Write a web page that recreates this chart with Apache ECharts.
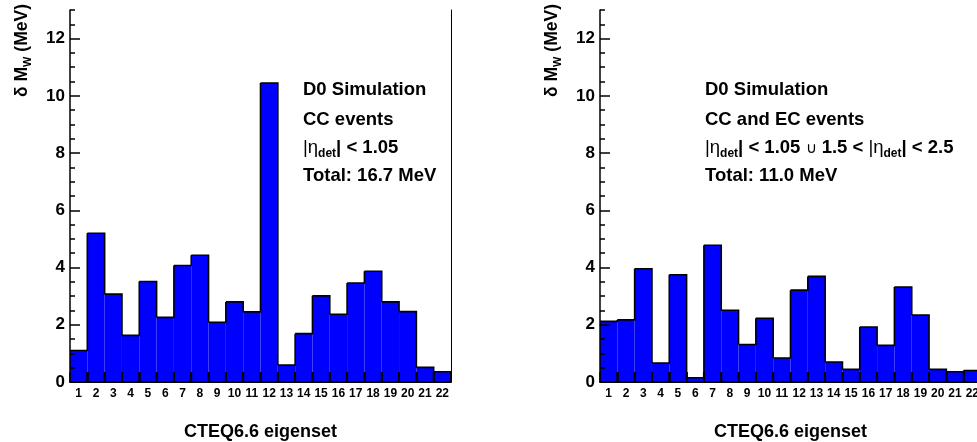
<!DOCTYPE html>
<html><head><meta charset="utf-8">
<script src="https://cdn.jsdelivr.net/npm/echarts@6/dist/echarts.min.js"></script>
<style>html,body{margin:0;padding:0;background:#fff}#c{width:977px;height:442px}</style>
</head><body><div id="c"></div>
<script>
// ---- data ----
const categories = ['1','2','3','4','5','6','7','8','9','10','11','12','13','14','15','16','17','18','19','20','21','22'];
const ccValues   = [1.10, 5.20, 3.07, 1.63, 3.51, 2.26, 4.07, 4.43, 2.09, 2.80, 2.45, 10.45, 0.59, 1.69, 3.01, 2.37, 3.46, 3.87, 2.80, 2.46, 0.51, 0.36];
const ccEcValues = [2.12, 2.17, 3.96, 0.66, 3.75, 0.15, 4.78, 2.51, 1.31, 2.23, 0.84, 3.21, 3.69, 0.70, 0.44, 1.92, 1.28, 3.32, 2.34, 0.44, 0.36, 0.40];
const yMin = 0, yMax = 13, yMajor = 2, yMinor = 0.5;
const xTitle = 'CTEQ6.6 eigenset';
const leftNotes  = ['D0 Simulation', 'CC events', '{n||η}{s|det}{b|| < 1.05}', 'Total: 16.7 MeV'];
const rightNotes = ['D0 Simulation', 'CC and EC events', '{n||η}{s|det}{b|| < 1.05 }{c|∪}{b| 1.5 < }{n||η}{s|det}{b|| < 2.5}', 'Total: 11.0 MeV'];

const FONT = '"Liberation Sans", Arial, Helvetica, sans-serif';
const chart = echarts.init(document.getElementById('c'), null, {renderer: 'canvas'});

function makeHist(vals) {
  return function (params, api) {
    const i = params.dataIndex;
    const v = api.value(1);
    const top = api.coord([i, v]);
    const base = api.coord([i, 0]);
    const w = api.size([1, 0])[0];
    const x0 = top[0] - w / 2, x1 = top[0] + w / 2;
    const last = i + 1 >= vals.length;
    const nextY = !last ? api.coord([i + 1, vals[i + 1]])[1] : base[1];
    const children = [
      {type: 'rect', z2: 1, shape: {x: x0, y: top[1], width: w, height: base[1] - top[1]}, style: {fill: '#0000ff'}},
      {type: 'polyline', z2: 10, shape: {points: [[x0, top[1]], [x1, top[1]], [x1, nextY]]}, style: {stroke: '#000', lineWidth: 1.6, fill: null}}
    ];
    if (!last) {
      children.push({type: 'line', z2: 20, shape: {x1: x1, y1: base[1], x2: x1, y2: base[1] - 10}, style: {stroke: '#000', lineWidth: 2}});
    }
    return {type: 'group', children: children};
  };
}

const grids = [
  {left: 70, top: 10, width: 381, height: 372, outerBoundsMode: 'none', containLabel: false},
  {left: 600, top: 10, width: 381, height: 372, outerBoundsMode: 'none', containLabel: false}
];
const xAxes = [], yAxes = [], series = [];
[ccValues, ccEcValues].forEach((vals, g) => {
  xAxes.push({
    gridIndex: g, type: 'category', data: categories, position: 'bottom', boundaryGap: true, z: 10,
    axisLine: {show: true, lineStyle: {color: '#000', width: 1.5}},
    axisTick: {show: true, inside: true, length: 10, interval: 0, lineStyle: {color: '#000', width: 1.5}},
    axisLabel: {interval: 0, margin: 6, color: '#000', fontSize: 12, fontWeight: 'bold', fontFamily: FONT},
    splitLine: {show: false},
    name: xTitle, nameLocation: 'middle', nameGap: 41,
    nameTextStyle: {color: '#000', fontSize: 18, fontWeight: 'bold', fontFamily: FONT}
  });
  xAxes.push({
    gridIndex: g, type: 'category', data: categories, position: 'top', boundaryGap: true, z: 10,
    axisLine: {show: true, lineStyle: {color: '#000', width: 1}},
    axisTick: {show: false}, axisLabel: {show: false}, splitLine: {show: false}
  });
  yAxes.push({
    gridIndex: g, type: 'value', min: yMin, max: yMax, interval: yMajor, position: 'left', z: 10,
    axisLine: {show: true, lineStyle: {color: '#000', width: 1.5}},
    axisTick: {show: true, inside: true, length: 10, lineStyle: {color: '#000', width: 1.5}},
    axisLabel: {showMaxLabel: false, margin: 5, color: '#000', fontSize: 17, fontWeight: 'bold', fontFamily: FONT},
    splitLine: {show: false}
  });
  yAxes.push({
    gridIndex: g, type: 'value', min: yMin, max: yMax, interval: yMinor, position: 'left', z: 10,
    axisLine: {show: false},
    axisTick: {show: true, inside: true, length: 5, lineStyle: {color: '#000', width: 1.5}},
    axisLabel: {show: false}, splitLine: {show: false}
  });
  yAxes.push({
    gridIndex: g, type: 'value', min: yMin, max: yMax, position: 'right', z: 10,
    axisLine: {show: true, lineStyle: {color: '#000', width: 1}},
    axisTick: {show: false}, axisLabel: {show: false}, splitLine: {show: false}
  });
  series.push({
    type: 'custom', xAxisIndex: g * 2, yAxisIndex: g * 3, z: 1,
    renderItem: makeHist(vals),
    data: vals.map((v, i) => [i, v]),
    encode: {x: 0, y: 1}, clip: false, silent: true
  });
});

const richNote = {
  b: {fontSize: 18.5, fontWeight: 'bold', fontFamily: FONT, fill: '#000', lineHeight: 22, verticalAlign: 'top'},
  n: {fontSize: 18.5, fontWeight: 'normal', fontFamily: FONT, fill: '#000', lineHeight: 22, verticalAlign: 'top'},
  c: {fontSize: 15, fontWeight: 'normal', fontFamily: FONT, fill: '#000', lineHeight: 22, verticalAlign: 'top', padding: [3, 0, 0, 0]},
  s: {fontSize: 12, fontWeight: 'bold', fontFamily: FONT, fill: '#000', lineHeight: 22, verticalAlign: 'top', padding: [10, 0, 0, 0]}
};
function noteTexts(x, lines) {
  const ys = [80, 110, 138, 166];
  return lines.map((t, k) => ({
    type: 'text', left: x, top: ys[k], z: 20,
    style: {text: t.indexOf('{') === 0 ? t : '{b|' + t + '}', rich: richNote, fill: '#000'}
  }));
}
function yTitle(x) {
  return {
    type: 'text', x: x, y: 4, rotation: Math.PI / 2, z: 20,
    style: {text: '{b|δ M}{s|W}{b| (MeV)}', align: 'right', verticalAlign: 'middle',
      rich: {
        b: {fontSize: 17.5, fontWeight: 'bold', fontFamily: FONT, fill: '#000', lineHeight: 21, verticalAlign: 'top'},
        s: {fontSize: 11, fontWeight: 'bold', fontFamily: FONT, fill: '#000', lineHeight: 21, verticalAlign: 'top', padding: [9, 0, 0, 0]}
      }}
  };
}

chart.setOption({
  animation: false,
  backgroundColor: '#fff',
  grid: grids,
  xAxis: xAxes,
  yAxis: yAxes,
  series: series,
  graphic: [].concat(noteTexts(303, leftNotes), noteTexts(705, rightNotes), [yTitle(24), yTitle(554)])
});
</script></body></html>
